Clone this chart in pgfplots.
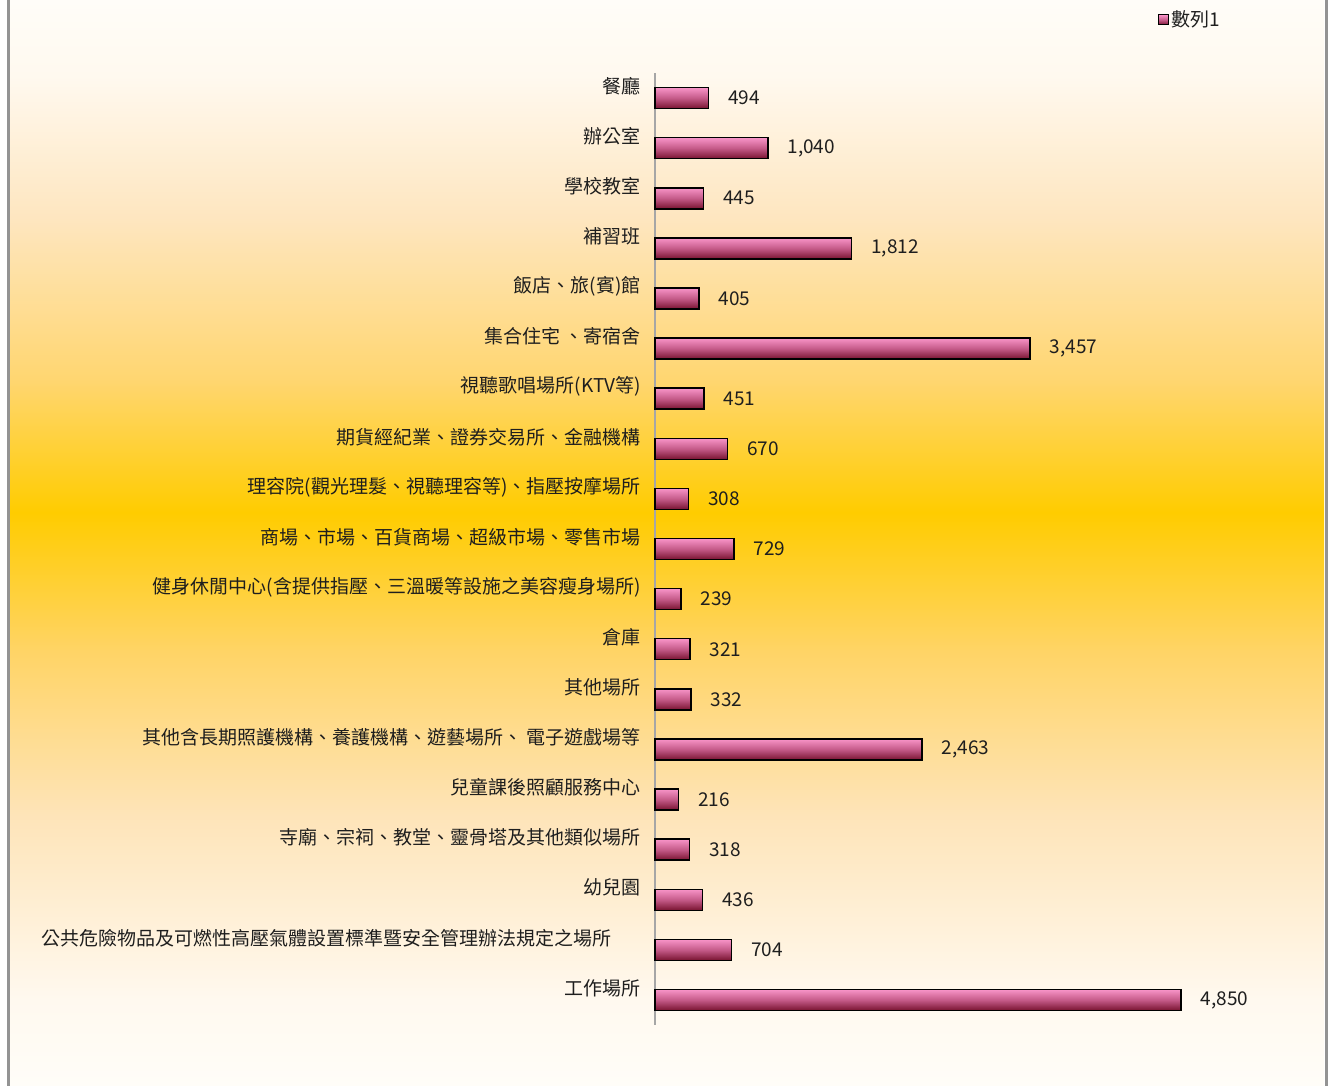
\documentclass[border=0pt]{standalone}
\usepackage{pgfplots}
\pgfplotsset{compat=1.18}
\usepackage{fontspec}
\setmainfont{Noto Sans CJK TC}

\definecolor{pinkT}{HTML}{F894C8}
\definecolor{pinkM}{HTML}{C45A88}
\definecolor{pinkB}{HTML}{781330}
\definecolor{txt}{HTML}{1E1E1E}

% the path is fitted to the 25bp..75bp band of a shading
\pgfdeclareverticalshading{bgshade}{100bp}{
  rgb(0bp)=(1,0.992,0.973);
  rgb(25bp)=(1,0.992,0.973);
  rgb(29bp)=(1,0.976,0.937);
  rgb(37.5bp)=(0.996,0.894,0.722);
  rgb(45bp)=(1,0.831,0.4);
  rgb(51.4bp)=(1,0.8,0);
  rgb(57.5bp)=(1,0.839,0.44);
  rgb(65bp)=(0.996,0.902,0.753);
  rgb(71.5bp)=(1,0.976,0.937);
  rgb(75bp)=(1,0.992,0.973);
  rgb(100bp)=(1,0.992,0.973)}
\pgfdeclareverticalshading{barshade}{100bp}{
  color(0bp)=(pinkB); color(25bp)=(pinkB); color(50bp)=(pinkM);
  color(75bp)=(pinkT); color(100bp)=(pinkT)}

\pgfplotsset{
  onebar/.style={draw=black, line width=1.5bp, shade, shading=barshade, forget plot},
}

\begin{document}
\fontsize{19bp}{22bp}\selectfont
\begin{tikzpicture}
\path[use as bounding box] (0,0) rectangle (1335bp,-1086bp);
\shade[shading=bgshade] (9bp,0) rectangle (1324bp,-1086bp);
\draw[gray!85, line width=3bp] (8bp,0) -- (8bp,-1086bp);
\draw[gray!85, line width=3bp] (1326bp,0) -- (1326bp,-1086bp);

\begin{axis}[
    at={(655bp,-1025bp)}, anchor=south west,
    scale only axis,
    width=650.7bp, height=952bp,
    xbar, bar width=21bp, bar shift=0pt,
    xmin=0, xmax=6000,
    ymin=-0.5, ymax=18.5,
    y dir=reverse,
    hide x axis,
    axis y line*=left,
    y axis line style={draw=gray!70, line width=1.5bp, -},
    major tick length=0pt,
    ytick={0,...,18},
    yticklabels={
      {餐廳},{辦公室},{學校教室},{補習班},{飯店、旅(賓)館},{集合住宅 、寄宿舍},
      {視聽歌唱場所(KTV等)},{期貨經紀業、證券交易所、金融機構},
      {理容院(觀光理髮、視聽理容等)、指壓按摩場所},
      {商場、市場、百貨商場、超級市場、零售市場},
      {健身休閒中心(含提供指壓、三溫暖等設施之美容瘦身場所)},
      {倉庫},{其他場所},{其他含長期照護機構、養護機構、遊藝場所、 電子遊戲場等},
      {兒童課後照顧服務中心},{寺廟、宗祠、教堂、靈骨塔及其他類似場所},{幼兒園},
      {公共危險物品及可燃性高壓氣體設置標準暨安全管理辦法規定之場所\kern29bp},
      {工作場所}},
    yticklabel style={anchor=east, inner sep=0pt, xshift=-14bp, yshift=12bp, text=txt},
    nodes near coords={\pgfmathprintnumber[fixed, precision=0, 1000 sep={,}, assume math mode=true]{\pgfplotspointmeta}},
    point meta=x,
    every node near coord/.append style={anchor=west, inner sep=0pt, xshift=19bp, text=txt},
    legend style={at={(0.773,1.0557)}, anchor=west, draw=none, fill=none,
      text=txt, inner sep=0pt, legend cell align=left},
    legend image code/.code={
      \draw[black, line width=1bp, shade, shading=barshade] (0bp,-5bp) rectangle (10bp,5bp);},
    clip=false,
]
\addplot[onebar] coordinates {(494,0)};
\addplot[onebar] coordinates {(1040,1)};
\addplot[onebar] coordinates {(445,2)};
\addplot[onebar] coordinates {(1812,3)};
\addplot[onebar] coordinates {(405,4)};
\addplot[onebar] coordinates {(3457,5)};
\addplot[onebar] coordinates {(451,6)};
\addplot[onebar] coordinates {(670,7)};
\addplot[onebar] coordinates {(308,8)};
\addplot[onebar] coordinates {(729,9)};
\addplot[onebar] coordinates {(239,10)};
\addplot[onebar] coordinates {(321,11)};
\addplot[onebar] coordinates {(332,12)};
\addplot[onebar] coordinates {(2463,13)};
\addplot[onebar] coordinates {(216,14)};
\addplot[onebar] coordinates {(318,15)};
\addplot[onebar] coordinates {(436,16)};
\addplot[onebar] coordinates {(704,17)};
\addplot[onebar] coordinates {(4850,18)};
\addlegendimage{black}
\addlegendentry{數列1}
\end{axis}
\end{tikzpicture}
\end{document}
